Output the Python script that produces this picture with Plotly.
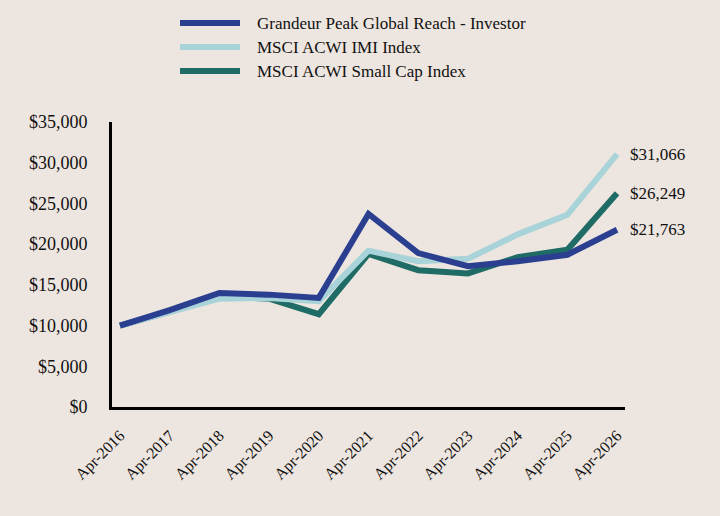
import plotly.graph_objects as go

dates = ["Apr-2016", "Apr-2017", "Apr-2018", "Apr-2019", "Apr-2020", "Apr-2021",
         "Apr-2022", "Apr-2023", "Apr-2024", "Apr-2025", "Apr-2026"]
investor = [10000, 11900, 14000, 13800, 13400, 23700, 18900, 17300, 17900, 18700, 21763]
acwi_imi = [10000, 11600, 13300, 13400, 13000, 19200, 17900, 18200, 21200, 23600, 31066]
small_cap = [10000, 11700, 13600, 13300, 11400, 18800, 16800, 16400, 18400, 19300, 26249]

names = ["Grandeur Peak Global Reach - Investor", "MSCI ACWI IMI Index", "MSCI ACWI Small Cap Index"]
colors = ["#2a3f8f", "#a8d3d8", "#1f6b66"]
series = [investor, acwi_imi, small_cap]
end_labels = ["$21,763", "$31,066", "$26,249"]

FONT = "Liberation Serif, Times New Roman, serif"
BG = "#ede5df"

W, H = 720, 516
ML, MR, MT, MB = 112, 95, 122, 109
PW = W - ML - MR
PH = H - MT - MB

fig = go.Figure()
xs = list(range(len(dates)))
# draw order: small cap, IMI, investor on top
for i in [2, 1, 0]:
    fig.add_trace(go.Scatter(x=xs, y=series[i], mode="lines", name=names[i],
                             line=dict(color=colors[i], width=6), showlegend=False,
                             hoverinfo="skip"))

for i in range(3):
    fig.add_annotation(x=xs[-1], y=series[i][-1], text=end_labels[i], showarrow=False,
                       xanchor="left", yanchor="middle", xshift=11,
                       font=dict(family=FONT, size=17, color="#111"))

# manual legend
for k, (nm, c) in enumerate(zip(names, colors)):
    ypix = 23 + k * 24
    y_paper = (H - MB - ypix) / PH
    fig.add_shape(type="line", xref="paper", yref="paper",
                  x0=(180 - ML) / PW, x1=(240 - ML) / PW, y0=y_paper, y1=y_paper,
                  line=dict(color=c, width=6), layer="above")
    fig.add_annotation(xref="paper", yref="paper", x=(255 - ML) / PW, y=y_paper,
                       text=nm, showarrow=False, xanchor="left", yanchor="middle",
                       font=dict(family=FONT, size=17, color="#111"))

fig.update_layout(
    width=W, height=H,
    margin=dict(l=ML, r=MR, t=MT, b=MB),
    paper_bgcolor=BG, plot_bgcolor=BG,
    font=dict(family=FONT, size=17, color="#111"),
    xaxis=dict(range=[-0.16, 10.16], tickmode="array", tickvals=xs, ticktext=dates,
               tickangle=-45, showgrid=False, zeroline=False,
               showline=True, linecolor="#000", linewidth=3,
               ticks="", ticklabelstandoff=10,
               tickfont=dict(family=FONT, size=16, color="#111")),
    yaxis=dict(range=[0, 35000], tickvals=[0, 5000, 10000, 15000, 20000, 25000, 30000, 35000],
               ticktext=["$0", "$5,000", "$10,000", "$15,000", "$20,000", "$25,000", "$30,000", "$35,000"],
               showgrid=False, zeroline=False, showline=True, linecolor="#000", linewidth=3,
               ticks="", ticklabelstandoff=18,
               tickfont=dict(family=FONT, size=18, color="#111")),
)

fig.write_html("out.html")
